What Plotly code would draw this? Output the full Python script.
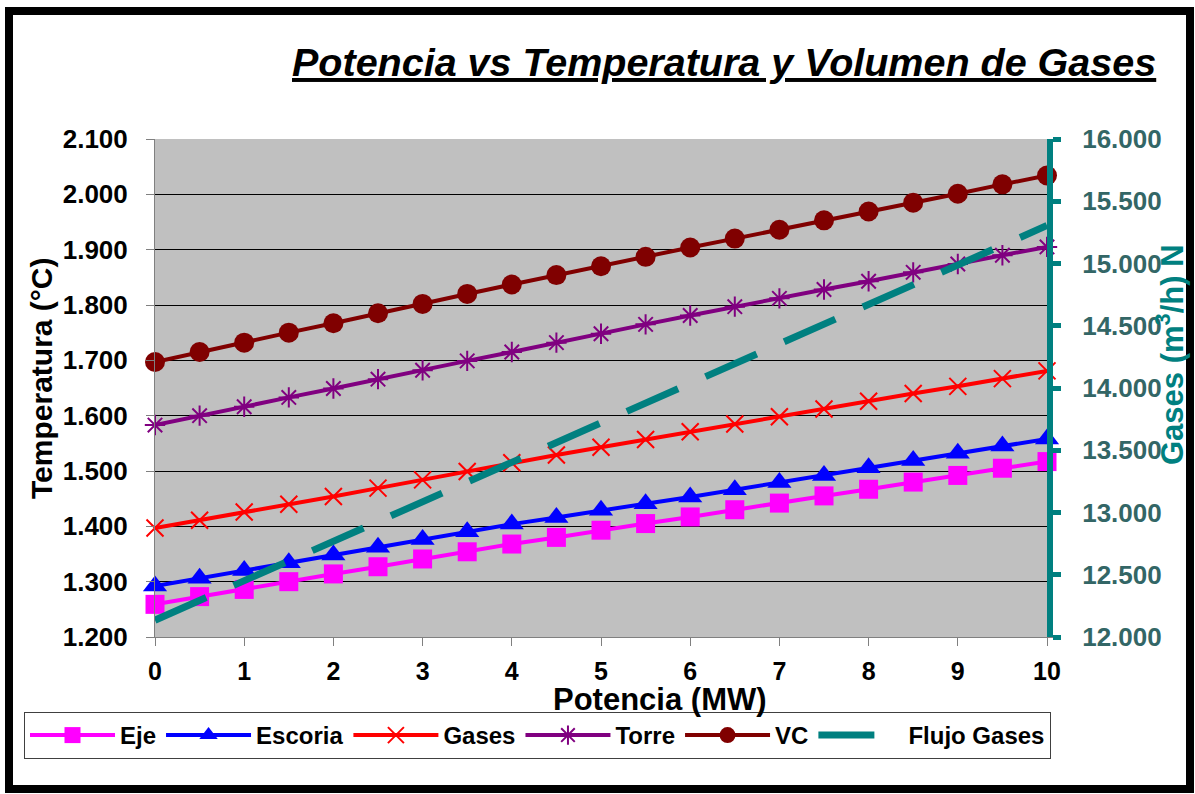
import plotly.graph_objects as go

# ---------------- data ----------------
potencia = [0, 0.5, 1, 1.5, 2, 2.5, 3, 3.5, 4, 4.5, 5, 5.5, 6, 6.5, 7, 7.5, 8, 8.5, 9, 9.5, 10]
eje = [1259, 1273, 1286, 1300, 1314, 1327, 1341, 1354, 1368, 1380, 1393, 1405, 1417, 1430, 1442, 1455, 1467, 1480, 1492, 1505, 1517]
escoria = [1292, 1306, 1320, 1334, 1348, 1362, 1376, 1390, 1404, 1416, 1429, 1441, 1453, 1466, 1479, 1492, 1506, 1519, 1532, 1545, 1558]
gases = [1397, 1411, 1426, 1440, 1454, 1469, 1484, 1499, 1515, 1529, 1543, 1557, 1571, 1585, 1598, 1612, 1626, 1640, 1653, 1667, 1681]
torre = [1583, 1600, 1616, 1633, 1649, 1666, 1682, 1699, 1715, 1732, 1748, 1765, 1781, 1797, 1812, 1828, 1843, 1859, 1874, 1890, 1905]
vc = [1697, 1715, 1732, 1750, 1767, 1785, 1802, 1820, 1837, 1854, 1870, 1887, 1904, 1920, 1936, 1953, 1969, 1985, 2001, 2018, 2034]
flujo_gases = [12135, 12293, 12452, 12610, 12769, 12927, 13086, 13244, 13403, 13561, 13720, 13878,
               14037, 14195, 14354, 14512, 14671, 14829, 14988, 15146, 15305]

x_ticks = [0, 1, 2, 3, 4, 5, 6, 7, 8, 9, 10]
title_text = "Potencia vs Temperatura y Volumen de Gases"
x_title = "Potencia (MW)"
y_title = "Temperatura (°C)"
y2_title = "Gases (m<sup>3</sup>/h) N"

# ---------------- layout geometry ----------------
W, H = 1195, 794
L, R, T, B = 155, 1047, 139, 637


def px(x):
    return (x - L) / (R - L)


def py(y):
    return (B - y) / (B - T)


FONT = "Liberation Sans, Arial, sans-serif"
TEAL = "#008080"

fig = go.Figure()

series = [
    ("Eje", eje, "#FF00FF", dict(symbol="square", size=19, color="#FF00FF")),
    ("Escoria", escoria, "#0000FF", dict(symbol="triangle-up", size=21, color="#0000FF")),
    ("Gases", gases, "#FF0000", dict(symbol="x-thin-open", size=17, color="#FF0000",
                                     line=dict(color="#FF0000", width=2))),
    ("Torre", torre, "#800080", dict(symbol="asterisk-open", size=17, color="#800080",
                                     line=dict(color="#800080", width=2))),
    ("VC", vc, "#800000", dict(symbol="circle", size=20, color="#800000")),
]
for name, vals, col, mk in series:
    fig.add_trace(go.Scatter(
        x=potencia, y=vals, name=name, mode="lines+markers",
        line=dict(color=col, width=4), marker=mk, cliponaxis=False,
        yaxis="y",
    ))

fig.add_trace(go.Scatter(
    x=potencia, y=flujo_gases, name="Flujo Gases", mode="lines",
    line=dict(color=TEAL, width=7, dash="56px,30px"),
    yaxis="y2", cliponaxis=False,
))

fig.update_layout(
    width=W, height=H,
    margin=dict(l=L, r=W - R, t=T, b=H - B, pad=0),
    paper_bgcolor="white",
    plot_bgcolor="#C0C0C0",
    separators=",.",
    font=dict(family=FONT, color="black", size=24),
    showlegend=True,
    legend=dict(
        orientation="h",
        x=px(24), y=py(712), xanchor="left", yanchor="top",
        bgcolor="white", bordercolor="#404040", borderwidth=1,
        font=dict(family=FONT, size=24, color="black", weight="bold"),
        itemwidth=85,
        traceorder="normal",
    ),
    xaxis=dict(
        range=[0, 10], tickvals=x_ticks, ticktext=[str(v) for v in x_ticks],
        showgrid=False, zeroline=False,
        showline=True, linecolor="#808080", linewidth=1,
        ticks="outside", ticklen=8, tickcolor="#808080", tickwidth=1,
        tickfont=dict(family=FONT, size=25, color="black", weight="bold"),
        ticklabelstandoff=4,
    ),
    yaxis=dict(
        range=[1200, 2100], dtick=100, tick0=1200, tickformat=",d",
        showgrid=True, gridcolor="black", gridwidth=1, zeroline=False,
        showline=True, linecolor="#808080", linewidth=1,
        ticks="outside", ticklen=8, tickcolor="#808080", tickwidth=1,
        tickfont=dict(family=FONT, size=26, color="black", weight="bold"),
        ticklabelstandoff=13,
    ),
    yaxis2=dict(
        overlaying="y", side="right", anchor="x",
        range=[12000, 16000], dtick=500, tick0=12000, tickformat=",d",
        showgrid=False, zeroline=False,
        showline=True, linecolor=TEAL, linewidth=6,
        ticks="outside", ticklen=8, tickcolor=TEAL, tickwidth=5,
        tickfont=dict(family=FONT, size=26, color="#336666", weight="bold"),
        ticklabelstandoff=16,
    ),
    yaxis3=dict(
        overlaying="y", side="right", anchor="x",
        range=[12000, 16000], dtick=500, tick0=12000,
        showgrid=False, zeroline=False, showline=False,
        showticklabels=False,
        ticks="inside", ticklen=6, tickcolor=TEAL, tickwidth=5,
    ),
)

fig.add_annotation(
    text=title_text, xref="paper", yref="paper",
    x=px(1158), y=py(62), xanchor="right", yanchor="middle", showarrow=False,
    font=dict(family=FONT, size=39.5, color="black", weight="bold", style="italic",
              lineposition="under"),
)
fig.add_annotation(
    text=x_title, xref="paper", yref="paper",
    x=px(660), y=py(699), xanchor="center", yanchor="middle", showarrow=False,
    font=dict(family=FONT, size=31, color="black", weight="bold"),
)
fig.add_annotation(
    text=y_title, xref="paper", yref="paper", textangle=-90,
    x=px(41), y=py(378), xanchor="center", yanchor="middle", showarrow=False,
    font=dict(family=FONT, size=30, color="black", weight="bold"),
)
fig.add_annotation(
    text=y2_title, xref="paper", yref="paper", textangle=-90,
    x=px(1170), y=py(355), xanchor="center", yanchor="middle", showarrow=False,
    font=dict(family=FONT, size=31, color=TEAL, weight="bold"),
)

# outer chart frame
fig.add_shape(
    type="rect", xref="paper", yref="paper",
    x0=px(9), x1=px(1190), y0=py(789), y1=py(11),
    line=dict(color="black", width=8), fillcolor="rgba(0,0,0,0)", layer="above",
)

fig.write_html("out.html", config={"displayModeBar": False},
               post_script="document.body.style.margin='0px';")
